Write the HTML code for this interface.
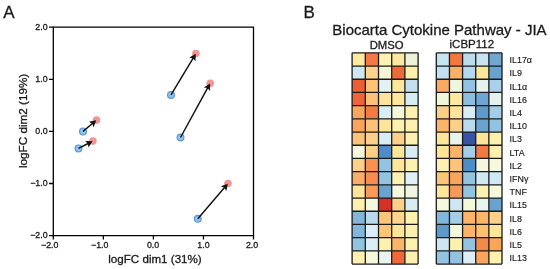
<!DOCTYPE html><html><head><meta charset="utf-8"><style>html,body{margin:0;padding:0;background:#fff;width:550px;height:269px;overflow:hidden}svg{display:block;filter:blur(0.35px)}text{font-family:"Liberation Sans",sans-serif;fill:#1a1a1a;stroke:#1a1a1a;stroke-width:0.3px}</style></head><body>
<svg width="550" height="269" viewBox="0 0 550 269">
<rect width="550" height="269" fill="#fff"/>
<text x="3.2" y="17.9" font-size="17" fill="#111">A</text>
<text x="303.6" y="17.9" font-size="17" fill="#111">B</text>
<path d="M53.3 27.2H253.5V235.6H53.3Z" fill="none" stroke="#000" stroke-width="1.3"/>
<path d="M49.00 27.20H53.3M49.00 79.30H53.3M49.00 131.40H53.3M49.00 183.50H53.3M49.00 235.60H53.3M53.30 235.6V239.6M103.35 235.6V239.6M153.40 235.6V239.6M203.45 235.6V239.6M253.50 235.6V239.6" stroke="#000" stroke-width="1.3" fill="none"/>
<text x="47.6" y="30.00" font-size="8.8" text-anchor="end">2.0</text>
<text x="47.6" y="82.10" font-size="8.8" text-anchor="end">1.0</text>
<text x="47.6" y="134.20" font-size="8.8" text-anchor="end">0.0</text>
<text x="47.6" y="186.30" font-size="8.8" text-anchor="end">−1.0</text>
<text x="47.6" y="238.40" font-size="8.8" text-anchor="end">−2.0</text>
<text x="49.70" y="248.2" font-size="8.8" text-anchor="middle">−2.0</text>
<text x="99.75" y="248.2" font-size="8.8" text-anchor="middle">−1.0</text>
<text x="153.00" y="248.2" font-size="8.8" text-anchor="middle">0.0</text>
<text x="203.45" y="248.2" font-size="8.8" text-anchor="middle">1.0</text>
<text x="252.00" y="248.2" font-size="8.8" text-anchor="middle">2.0</text>
<text x="155" y="263.3" font-size="11.6" text-anchor="middle">logFC dim1 (31%)</text>
<text transform="translate(27.1 120.9) rotate(-90)" font-size="11.7" text-anchor="middle">logFC dim2 (19%)</text>
<circle cx="83.0" cy="131.4" r="3.4" fill="#93c1ea" stroke="#5a98d6" stroke-width="1.2"/>
<circle cx="96.5" cy="120.1" r="3.8" fill="#f39494"/>
<circle cx="78.5" cy="148.4" r="3.4" fill="#93c1ea" stroke="#5a98d6" stroke-width="1.2"/>
<circle cx="92.9" cy="141.1" r="3.8" fill="#f39494"/>
<circle cx="171.0" cy="94.9" r="3.4" fill="#93c1ea" stroke="#5a98d6" stroke-width="1.2"/>
<circle cx="195.9" cy="53.6" r="3.8" fill="#f39494"/>
<circle cx="180.5" cy="137.5" r="3.4" fill="#93c1ea" stroke="#5a98d6" stroke-width="1.2"/>
<circle cx="210.2" cy="83.2" r="3.8" fill="#f39494"/>
<circle cx="197.8" cy="218.7" r="3.4" fill="#93c1ea" stroke="#5a98d6" stroke-width="1.2"/>
<circle cx="228.0" cy="183.5" r="3.8" fill="#f39494"/>
<line x1="83.0" y1="131.4" x2="92.44" y2="123.50" stroke="#111" stroke-width="1.45"/>
<path d="M96.27 120.29L93.60 127.23L92.21 123.69L88.97 121.70Z" fill="#111"/>
<line x1="78.5" y1="148.4" x2="88.17" y2="143.50" stroke="#111" stroke-width="1.45"/>
<path d="M92.63 141.24L88.46 147.39L87.91 143.63L85.21 140.96Z" fill="#111"/>
<line x1="171.0" y1="94.9" x2="193.16" y2="58.14" stroke="#111" stroke-width="1.45"/>
<path d="M195.75 53.86L195.47 61.28L193.01 58.40L189.31 57.56Z" fill="#111"/>
<line x1="180.5" y1="137.5" x2="207.66" y2="87.85" stroke="#111" stroke-width="1.45"/>
<path d="M210.06 83.46L210.10 90.89L207.51 88.11L203.78 87.44Z" fill="#111"/>
<line x1="197.8" y1="218.7" x2="224.55" y2="187.52" stroke="#111" stroke-width="1.45"/>
<path d="M227.80 183.73L226.30 191.01L224.35 187.75L220.84 186.32Z" fill="#111"/>
<text x="332.3" y="35.2" font-size="15" fill="#111">Biocarta Cytokine Pathway - JIA</text>
<text x="386.6" y="48.7" font-size="11.3" text-anchor="middle">DMSO</text>
<text x="471.8" y="48.1" font-size="11.5" text-anchor="middle">iCBP112</text>
<rect x="352.10" y="52.85" width="13.25" height="13.25" fill="#fde9a0"/>
<rect x="365.30" y="52.85" width="13.25" height="13.25" fill="#f47a45"/>
<rect x="378.50" y="52.85" width="13.25" height="13.25" fill="#fef3b5"/>
<rect x="391.70" y="52.85" width="13.25" height="13.25" fill="#fde8a0"/>
<rect x="404.90" y="52.85" width="13.25" height="13.25" fill="#eef2d8"/>
<rect x="352.10" y="66.05" width="13.25" height="13.25" fill="#cde6f2"/>
<rect x="365.30" y="66.05" width="13.25" height="13.25" fill="#fdd28a"/>
<rect x="378.50" y="66.05" width="13.25" height="13.25" fill="#f8f6d5"/>
<rect x="391.70" y="66.05" width="13.25" height="13.25" fill="#ef6a3a"/>
<rect x="404.90" y="66.05" width="13.25" height="13.25" fill="#fef1ae"/>
<rect x="352.10" y="79.25" width="13.25" height="13.25" fill="#ee5e34"/>
<rect x="365.30" y="79.25" width="13.25" height="13.25" fill="#fdc27a"/>
<rect x="378.50" y="79.25" width="13.25" height="13.25" fill="#e2f1f4"/>
<rect x="391.70" y="79.25" width="13.25" height="13.25" fill="#fee79a"/>
<rect x="404.90" y="79.25" width="13.25" height="13.25" fill="#c4e0ef"/>
<rect x="352.10" y="92.45" width="13.25" height="13.25" fill="#ee6538"/>
<rect x="365.30" y="92.45" width="13.25" height="13.25" fill="#fdc27a"/>
<rect x="378.50" y="92.45" width="13.25" height="13.25" fill="#fee39a"/>
<rect x="391.70" y="92.45" width="13.25" height="13.25" fill="#fee79a"/>
<rect x="404.90" y="92.45" width="13.25" height="13.25" fill="#d6ecf3"/>
<rect x="352.10" y="105.65" width="13.25" height="13.25" fill="#fba55c"/>
<rect x="365.30" y="105.65" width="13.25" height="13.25" fill="#f47a45"/>
<rect x="378.50" y="105.65" width="13.25" height="13.25" fill="#dceef5"/>
<rect x="391.70" y="105.65" width="13.25" height="13.25" fill="#f6f6d8"/>
<rect x="404.90" y="105.65" width="13.25" height="13.25" fill="#fef1b0"/>
<rect x="352.10" y="118.85" width="13.25" height="13.25" fill="#fba55c"/>
<rect x="365.30" y="118.85" width="13.25" height="13.25" fill="#fdc27a"/>
<rect x="378.50" y="118.85" width="13.25" height="13.25" fill="#fee59a"/>
<rect x="391.70" y="118.85" width="13.25" height="13.25" fill="#fef1b0"/>
<rect x="404.90" y="118.85" width="13.25" height="13.25" fill="#fef1b0"/>
<rect x="352.10" y="132.05" width="13.25" height="13.25" fill="#fdc27a"/>
<rect x="365.30" y="132.05" width="13.25" height="13.25" fill="#fdd089"/>
<rect x="378.50" y="132.05" width="13.25" height="13.25" fill="#d8ecf4"/>
<rect x="391.70" y="132.05" width="13.25" height="13.25" fill="#fdd089"/>
<rect x="404.90" y="132.05" width="13.25" height="13.25" fill="#fef1b0"/>
<rect x="352.10" y="145.25" width="13.25" height="13.25" fill="#f6f8dd"/>
<rect x="365.30" y="145.25" width="13.25" height="13.25" fill="#fdd089"/>
<rect x="378.50" y="145.25" width="13.25" height="13.25" fill="#4f8cc6"/>
<rect x="391.70" y="145.25" width="13.25" height="13.25" fill="#fee59a"/>
<rect x="404.90" y="145.25" width="13.25" height="13.25" fill="#d8ecf4"/>
<rect x="352.10" y="158.45" width="13.25" height="13.25" fill="#fdd089"/>
<rect x="365.30" y="158.45" width="13.25" height="13.25" fill="#f99153"/>
<rect x="378.50" y="158.45" width="13.25" height="13.25" fill="#92c3e1"/>
<rect x="391.70" y="158.45" width="13.25" height="13.25" fill="#fee59a"/>
<rect x="404.90" y="158.45" width="13.25" height="13.25" fill="#fef1b0"/>
<rect x="352.10" y="171.65" width="13.25" height="13.25" fill="#fcae68"/>
<rect x="365.30" y="171.65" width="13.25" height="13.25" fill="#f88c50"/>
<rect x="378.50" y="171.65" width="13.25" height="13.25" fill="#92c3e1"/>
<rect x="391.70" y="171.65" width="13.25" height="13.25" fill="#fef1b0"/>
<rect x="404.90" y="171.65" width="13.25" height="13.25" fill="#e0f0f5"/>
<rect x="352.10" y="184.85" width="13.25" height="13.25" fill="#fee59a"/>
<rect x="365.30" y="184.85" width="13.25" height="13.25" fill="#f99a58"/>
<rect x="378.50" y="184.85" width="13.25" height="13.25" fill="#6aa3d0"/>
<rect x="391.70" y="184.85" width="13.25" height="13.25" fill="#f6f8dd"/>
<rect x="404.90" y="184.85" width="13.25" height="13.25" fill="#eef6df"/>
<rect x="352.10" y="198.05" width="13.25" height="13.25" fill="#fef1b0"/>
<rect x="365.30" y="198.05" width="13.25" height="13.25" fill="#f6f8dd"/>
<rect x="378.50" y="198.05" width="13.25" height="13.25" fill="#d73027"/>
<rect x="391.70" y="198.05" width="13.25" height="13.25" fill="#fdd089"/>
<rect x="404.90" y="198.05" width="13.25" height="13.25" fill="#d8ecf4"/>
<rect x="352.10" y="211.25" width="13.25" height="13.25" fill="#82b6da"/>
<rect x="365.30" y="211.25" width="13.25" height="13.25" fill="#b8daec"/>
<rect x="378.50" y="211.25" width="13.25" height="13.25" fill="#fcc477"/>
<rect x="391.70" y="211.25" width="13.25" height="13.25" fill="#fdd58c"/>
<rect x="404.90" y="211.25" width="13.25" height="13.25" fill="#fef1b0"/>
<rect x="352.10" y="224.45" width="13.25" height="13.25" fill="#82b6da"/>
<rect x="365.30" y="224.45" width="13.25" height="13.25" fill="#dceef5"/>
<rect x="378.50" y="224.45" width="13.25" height="13.25" fill="#fcc477"/>
<rect x="391.70" y="224.45" width="13.25" height="13.25" fill="#fee59a"/>
<rect x="404.90" y="224.45" width="13.25" height="13.25" fill="#fef1b0"/>
<rect x="352.10" y="237.65" width="13.25" height="13.25" fill="#92c3e1"/>
<rect x="365.30" y="237.65" width="13.25" height="13.25" fill="#dceef5"/>
<rect x="378.50" y="237.65" width="13.25" height="13.25" fill="#fef1b0"/>
<rect x="391.70" y="237.65" width="13.25" height="13.25" fill="#fcb468"/>
<rect x="404.90" y="237.65" width="13.25" height="13.25" fill="#fef1b0"/>
<rect x="352.10" y="250.85" width="13.25" height="13.25" fill="#fef1b0"/>
<rect x="365.30" y="250.85" width="13.25" height="13.25" fill="#f6f8dd"/>
<rect x="378.50" y="250.85" width="13.25" height="13.25" fill="#e8f4f0"/>
<rect x="391.70" y="250.85" width="13.25" height="13.25" fill="#f4673a"/>
<rect x="404.90" y="250.85" width="13.25" height="13.25" fill="#fef1b0"/>
<path d="M352.10 52.85V264.05M365.30 52.85V264.05M378.50 52.85V264.05M391.70 52.85V264.05M404.90 52.85V264.05M418.10 52.85V264.05M352.1 52.85H418.1M352.1 66.05H418.1M352.1 79.25H418.1M352.1 92.45H418.1M352.1 105.65H418.1M352.1 118.85H418.1M352.1 132.05H418.1M352.1 145.25H418.1M352.1 158.45H418.1M352.1 171.65H418.1M352.1 184.85H418.1M352.1 198.05H418.1M352.1 211.25H418.1M352.1 224.45H418.1M352.1 237.65H418.1M352.1 250.85H418.1M352.1 264.05H418.1" stroke="#1a1a1a" stroke-width="1.3" fill="none"/>
<rect x="436.30" y="52.85" width="13.19" height="13.25" fill="#c6e3f0"/>
<rect x="449.44" y="52.85" width="13.19" height="13.25" fill="#f3783f"/>
<rect x="462.58" y="52.85" width="13.19" height="13.25" fill="#bcdcee"/>
<rect x="475.72" y="52.85" width="13.19" height="13.25" fill="#c6e3f0"/>
<rect x="488.86" y="52.85" width="13.19" height="13.25" fill="#6fa6d2"/>
<rect x="436.30" y="66.05" width="13.19" height="13.25" fill="#c2e0ef"/>
<rect x="449.44" y="66.05" width="13.19" height="13.25" fill="#fbb065"/>
<rect x="462.58" y="66.05" width="13.19" height="13.25" fill="#b6d8ec"/>
<rect x="475.72" y="66.05" width="13.19" height="13.25" fill="#fde59a"/>
<rect x="488.86" y="66.05" width="13.19" height="13.25" fill="#6aa3d0"/>
<rect x="436.30" y="79.25" width="13.19" height="13.25" fill="#fbaa60"/>
<rect x="449.44" y="79.25" width="13.19" height="13.25" fill="#eef6df"/>
<rect x="462.58" y="79.25" width="13.19" height="13.25" fill="#93c3e2"/>
<rect x="475.72" y="79.25" width="13.19" height="13.25" fill="#e6f3ef"/>
<rect x="488.86" y="79.25" width="13.19" height="13.25" fill="#a9d2ea"/>
<rect x="436.30" y="92.45" width="13.19" height="13.25" fill="#f0f6d8"/>
<rect x="449.44" y="92.45" width="13.19" height="13.25" fill="#fde9a0"/>
<rect x="462.58" y="92.45" width="13.19" height="13.25" fill="#8cbee0"/>
<rect x="475.72" y="92.45" width="13.19" height="13.25" fill="#6ea6d3"/>
<rect x="488.86" y="92.45" width="13.19" height="13.25" fill="#e3f1f1"/>
<rect x="436.30" y="105.65" width="13.19" height="13.25" fill="#fdd089"/>
<rect x="449.44" y="105.65" width="13.19" height="13.25" fill="#fee59a"/>
<rect x="462.58" y="105.65" width="13.19" height="13.25" fill="#d8ecf4"/>
<rect x="475.72" y="105.65" width="13.19" height="13.25" fill="#5e9acc"/>
<rect x="488.86" y="105.65" width="13.19" height="13.25" fill="#a4cde6"/>
<rect x="436.30" y="118.85" width="13.19" height="13.25" fill="#fbb468"/>
<rect x="449.44" y="118.85" width="13.19" height="13.25" fill="#fdd089"/>
<rect x="462.58" y="118.85" width="13.19" height="13.25" fill="#b8daec"/>
<rect x="475.72" y="118.85" width="13.19" height="13.25" fill="#6aa3d0"/>
<rect x="488.86" y="118.85" width="13.19" height="13.25" fill="#93c3e2"/>
<rect x="436.30" y="132.05" width="13.19" height="13.25" fill="#fee59a"/>
<rect x="449.44" y="132.05" width="13.19" height="13.25" fill="#e7f3ec"/>
<rect x="462.58" y="132.05" width="13.19" height="13.25" fill="#3953a4"/>
<rect x="475.72" y="132.05" width="13.19" height="13.25" fill="#fee59a"/>
<rect x="488.86" y="132.05" width="13.19" height="13.25" fill="#fef1b0"/>
<rect x="436.30" y="145.25" width="13.19" height="13.25" fill="#fee59a"/>
<rect x="449.44" y="145.25" width="13.19" height="13.25" fill="#fcb468"/>
<rect x="462.58" y="145.25" width="13.19" height="13.25" fill="#a4cde6"/>
<rect x="475.72" y="145.25" width="13.19" height="13.25" fill="#f47a45"/>
<rect x="488.86" y="145.25" width="13.19" height="13.25" fill="#fef1b0"/>
<rect x="436.30" y="158.45" width="13.19" height="13.25" fill="#fef1b0"/>
<rect x="449.44" y="158.45" width="13.19" height="13.25" fill="#fcc477"/>
<rect x="462.58" y="158.45" width="13.19" height="13.25" fill="#4f8cc6"/>
<rect x="475.72" y="158.45" width="13.19" height="13.25" fill="#f6f8dd"/>
<rect x="488.86" y="158.45" width="13.19" height="13.25" fill="#f6f8dd"/>
<rect x="436.30" y="171.65" width="13.19" height="13.25" fill="#fcc477"/>
<rect x="449.44" y="171.65" width="13.19" height="13.25" fill="#fba55c"/>
<rect x="462.58" y="171.65" width="13.19" height="13.25" fill="#92c3e1"/>
<rect x="475.72" y="171.65" width="13.19" height="13.25" fill="#d0e8f3"/>
<rect x="488.86" y="171.65" width="13.19" height="13.25" fill="#d0e8f3"/>
<rect x="436.30" y="184.85" width="13.19" height="13.25" fill="#fee59a"/>
<rect x="449.44" y="184.85" width="13.19" height="13.25" fill="#fa9a58"/>
<rect x="462.58" y="184.85" width="13.19" height="13.25" fill="#92c3e1"/>
<rect x="475.72" y="184.85" width="13.19" height="13.25" fill="#fef1b0"/>
<rect x="488.86" y="184.85" width="13.19" height="13.25" fill="#f6f8dd"/>
<rect x="436.30" y="198.05" width="13.19" height="13.25" fill="#f6f8dd"/>
<rect x="449.44" y="198.05" width="13.19" height="13.25" fill="#cde6f2"/>
<rect x="462.58" y="198.05" width="13.19" height="13.25" fill="#f6f8dd"/>
<rect x="475.72" y="198.05" width="13.19" height="13.25" fill="#e8f4f0"/>
<rect x="488.86" y="198.05" width="13.19" height="13.25" fill="#6aa3d0"/>
<rect x="436.30" y="211.25" width="13.19" height="13.25" fill="#82b6da"/>
<rect x="449.44" y="211.25" width="13.19" height="13.25" fill="#a4cde6"/>
<rect x="462.58" y="211.25" width="13.19" height="13.25" fill="#fcb468"/>
<rect x="475.72" y="211.25" width="13.19" height="13.25" fill="#fcb468"/>
<rect x="488.86" y="211.25" width="13.19" height="13.25" fill="#fdd089"/>
<rect x="436.30" y="224.45" width="13.19" height="13.25" fill="#5e9acc"/>
<rect x="449.44" y="224.45" width="13.19" height="13.25" fill="#f6f8dd"/>
<rect x="462.58" y="224.45" width="13.19" height="13.25" fill="#fcb468"/>
<rect x="475.72" y="224.45" width="13.19" height="13.25" fill="#fcc070"/>
<rect x="488.86" y="224.45" width="13.19" height="13.25" fill="#fee59a"/>
<rect x="436.30" y="237.65" width="13.19" height="13.25" fill="#cde6f2"/>
<rect x="449.44" y="237.65" width="13.19" height="13.25" fill="#fef1b0"/>
<rect x="462.58" y="237.65" width="13.19" height="13.25" fill="#92c3e1"/>
<rect x="475.72" y="237.65" width="13.19" height="13.25" fill="#f48a4a"/>
<rect x="488.86" y="237.65" width="13.19" height="13.25" fill="#fba55c"/>
<rect x="436.30" y="250.85" width="13.19" height="13.25" fill="#92c3e1"/>
<rect x="449.44" y="250.85" width="13.19" height="13.25" fill="#92c3e1"/>
<rect x="462.58" y="250.85" width="13.19" height="13.25" fill="#dceef5"/>
<rect x="475.72" y="250.85" width="13.19" height="13.25" fill="#fba55c"/>
<rect x="488.86" y="250.85" width="13.19" height="13.25" fill="#fef1b0"/>
<path d="M436.30 52.85V264.05M449.44 52.85V264.05M462.58 52.85V264.05M475.72 52.85V264.05M488.86 52.85V264.05M502.00 52.85V264.05M436.3 52.85H502.0M436.3 66.05H502.0M436.3 79.25H502.0M436.3 92.45H502.0M436.3 105.65H502.0M436.3 118.85H502.0M436.3 132.05H502.0M436.3 145.25H502.0M436.3 158.45H502.0M436.3 171.65H502.0M436.3 184.85H502.0M436.3 198.05H502.0M436.3 211.25H502.0M436.3 224.45H502.0M436.3 237.65H502.0M436.3 250.85H502.0M436.3 264.05H502.0" stroke="#1a1a1a" stroke-width="1.3" fill="none"/>
<text x="509.6" y="63.15" font-size="8.9" style="stroke-width:0.15px">IL17α</text>
<text x="509.6" y="76.35" font-size="8.9" style="stroke-width:0.15px">IL9</text>
<text x="509.6" y="89.55" font-size="8.9" style="stroke-width:0.15px">IL1α</text>
<text x="509.6" y="102.75" font-size="8.9" style="stroke-width:0.15px">IL16</text>
<text x="509.6" y="115.95" font-size="8.9" style="stroke-width:0.15px">IL4</text>
<text x="509.6" y="129.15" font-size="8.9" style="stroke-width:0.15px">IL10</text>
<text x="509.6" y="142.35" font-size="8.9" style="stroke-width:0.15px">IL3</text>
<text x="509.6" y="155.55" font-size="8.9" style="stroke-width:0.15px">LTA</text>
<text x="509.6" y="168.75" font-size="8.9" style="stroke-width:0.15px">IL2</text>
<text x="509.6" y="181.95" font-size="8.9" style="stroke-width:0.15px">IFNγ</text>
<text x="509.6" y="195.15" font-size="8.9" style="stroke-width:0.15px">TNF</text>
<text x="509.6" y="208.35" font-size="8.9" style="stroke-width:0.15px">IL15</text>
<text x="509.6" y="221.55" font-size="8.9" style="stroke-width:0.15px">IL8</text>
<text x="509.6" y="234.75" font-size="8.9" style="stroke-width:0.15px">IL6</text>
<text x="509.6" y="247.95" font-size="8.9" style="stroke-width:0.15px">IL5</text>
<text x="509.6" y="261.15" font-size="8.9" style="stroke-width:0.15px">IL13</text>
</svg></body></html>
